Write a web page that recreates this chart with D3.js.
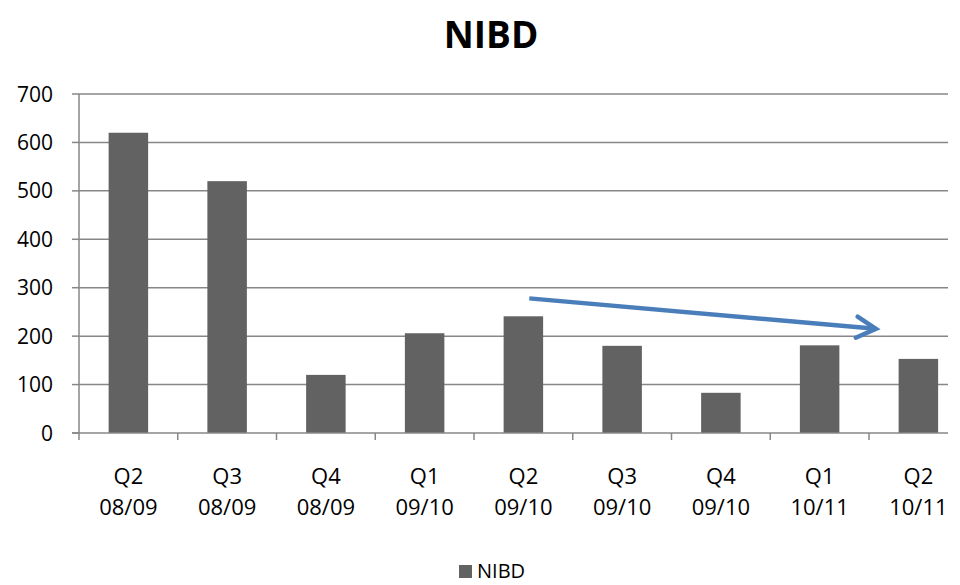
<!DOCTYPE html>
<html>
<head>
<meta charset="utf-8">
<script src="https://cdn.jsdelivr.net/npm/d3@7"></script>
<style>
  body { margin: 0; background: #fff; }
  text { font-family: "Open Sans", sans-serif; fill: #000; }
</style>
</head>
<body>
<div id="chart"></div>
<script>
// data
var quarters = ["Q2", "Q3", "Q4", "Q1", "Q2", "Q3", "Q4", "Q1", "Q2"];
var years = ["08/09", "08/09", "08/09", "09/10", "09/10", "09/10", "09/10", "10/11", "10/11"];
var nibd = [620, 520, 120, 206, 241, 180, 83, 181, 153];
var yTicks = [0, 100, 200, 300, 400, 500, 600, 700];
// trend arrow drawn on top of the chart (category index, value)
var arrowFrom = [4.06, 278];
var arrowTo = [7.57, 215];

var width = 960,
    height = 585,
    plotLeft = 79,
    plotTop = 94,
    plotBottom = 433,
    plotRight = 948; // plot is cut at the right edge

var cats = d3.range(nibd.length);

var xScale = d3.scaleBand()
  .domain(cats)
  .range([plotLeft, plotLeft + 98.75 * nibd.length])
  .paddingInner(0.6)
  .paddingOuter(0.3);

var yScale = d3.scaleLinear()
  .domain([0, 700])
  .range([plotBottom, plotTop]);

// centre of category i (fractional i allowed)
function xPos(i) {
  return plotLeft + xScale.step() * (i + 0.5);
}

var svg = d3.select("#chart").append("svg")
  .attr("width", width)
  .attr("height", height);

// title
svg.append("text")
  .attr("x", 491)
  .attr("y", 48)
  .attr("text-anchor", "middle")
  .style("font-size", "37px")
  .style("font-weight", "bold")
  .text("NIBD");

// gridlines
svg.append("g").selectAll("line").data(yTicks.slice(1)).enter()
  .append("line")
    .attr("x1", plotLeft).attr("x2", plotRight)
    .attr("y1", function(d){ return yScale(d); })
    .attr("y2", function(d){ return yScale(d); })
    .attr("stroke", "#878787")
    .attr("stroke-width", 1.5);

// bars
svg.append("g").selectAll("rect").data(nibd).enter()
  .append("rect")
    .attr("x", function(d, i){ return xScale(i); })
    .attr("width", xScale.bandwidth())
    .attr("y", function(d){ return yScale(d); })
    .attr("height", function(d){ return plotBottom - yScale(d); })
    .attr("fill", "#626262");

// y axis
var yAxis = svg.append("g");
yAxis.append("line")
  .attr("x1", plotLeft).attr("x2", plotLeft)
  .attr("y1", plotTop).attr("y2", plotBottom)
  .attr("stroke", "#878787").attr("stroke-width", 1.5);
yAxis.selectAll("line.tick").data(yTicks).enter()
  .append("line")
    .attr("class", "tick")
    .attr("x1", plotLeft - 7).attr("x2", plotLeft)
    .attr("y1", function(d){ return yScale(d); })
    .attr("y2", function(d){ return yScale(d); })
    .attr("stroke", "#878787").attr("stroke-width", 1.5);
yAxis.selectAll("text").data(yTicks).enter()
  .append("text")
    .attr("x", 53)
    .attr("y", function(d){ return yScale(d) + 7.5; })
    .attr("text-anchor", "end")
    .style("font-size", "21px")
    .text(function(d){ return d; });

// x axis
var xAxis = svg.append("g");
xAxis.append("line")
  .attr("x1", plotLeft - 7).attr("x2", plotRight)
  .attr("y1", plotBottom).attr("y2", plotBottom)
  .attr("stroke", "#878787").attr("stroke-width", 1.5);
xAxis.selectAll("line.tick").data(cats).enter()
  .append("line")
    .attr("class", "tick")
    .attr("x1", function(i){ return plotLeft + xScale.step() * i; })
    .attr("x2", function(i){ return plotLeft + xScale.step() * i; })
    .attr("y1", plotBottom).attr("y2", plotBottom + 7)
    .attr("stroke", "#878787").attr("stroke-width", 1.5);
var lbl = xAxis.selectAll("text").data(cats).enter()
  .append("text")
    .attr("text-anchor", "middle")
    .style("font-size", "22px");
lbl.append("tspan")
  .attr("x", function(i){ return xPos(i); })
  .attr("y", 484)
  .text(function(i){ return quarters[i]; });
lbl.append("tspan")
  .attr("x", function(i){ return xPos(i); })
  .attr("y", 515)
  .text(function(i){ return years[i]; });

// trend arrow
var ax1 = xPos(arrowFrom[0]), ay1 = yScale(arrowFrom[1]),
    ax2 = xPos(arrowTo[0]), ay2 = yScale(arrowTo[1]);
var ang = Math.atan2(ay2 - ay1, ax2 - ax1);
svg.append("line")
  .attr("x1", ax1).attr("y1", ay1)
  .attr("x2", ax2 - 3 * Math.cos(ang)).attr("y2", ay2 - 3 * Math.sin(ang))
  .attr("stroke", "#4a7ebb").attr("stroke-width", 4.5);
var headLen = 22, spread = 0.5;
svg.append("path")
  .attr("d", d3.line()([
    [ax2 - headLen * Math.cos(ang - spread), ay2 - headLen * Math.sin(ang - spread)],
    [ax2, ay2],
    [ax2 - headLen * Math.cos(ang + spread), ay2 - headLen * Math.sin(ang + spread)]
  ]))
  .attr("fill", "none")
  .attr("stroke", "#4a7ebb")
  .attr("stroke-width", 4.5)
  .attr("stroke-linecap", "round")
  .attr("stroke-linejoin", "miter");

// legend
svg.append("rect")
  .attr("x", 459).attr("y", 565)
  .attr("width", 13).attr("height", 13)
  .attr("fill", "#626262");
svg.append("text")
  .attr("x", 477).attr("y", 578)
  .style("font-size", "20px")
  .text("NIBD");
</script>
</body>
</html>
